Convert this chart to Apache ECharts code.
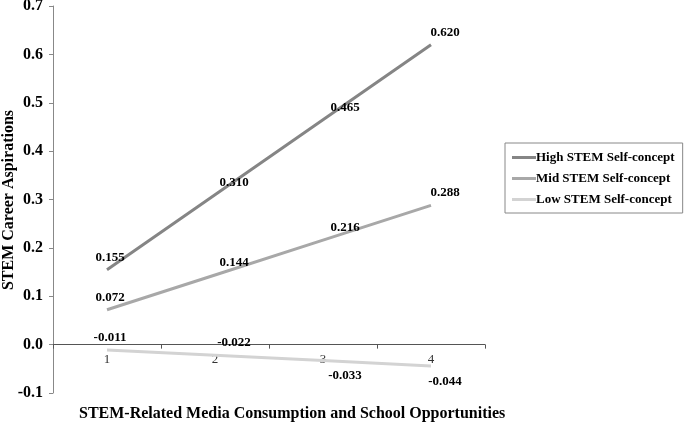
<!DOCTYPE html>
<html><head><meta charset="utf-8">
<script src="https://cdn.jsdelivr.net/npm/echarts@6/dist/echarts.min.js"></script>
<style>html,body{margin:0;padding:0;background:#fff}#c{width:685px;height:422px}</style>
</head><body><div id="c"></div>
<script>
const categories = ['1', '2', '3', '4'];
const seriesNames = ['High STEM Self-concept', 'Mid STEM Self-concept', 'Low STEM Self-concept'];
const highValues = [0.155, 0.310, 0.465, 0.620];
const midValues = [0.072, 0.144, 0.216, 0.288];
const lowValues = [-0.011, -0.022, -0.033, -0.044];
const yTicks = [-0.1, 0, 0.1, 0.2, 0.3, 0.4, 0.5, 0.6, 0.7];
const yTitle = 'STEM Career Aspirations';
const xTitle = 'STEM-Related Media Consumption and School Opportunities';

const F = '"Liberation Serif","Times New Roman",serif';
const colors = ['#858585', '#a8a8a8', '#d3d3d3'];
// label placement (styling only)
const offsetsX = [3, 19, 22, 14];
function mkData(vals, below) {
  return vals.map((v, i) => ({
    value: v,
    label: {
      position: below && below[i] ? 'bottom' : 'top',
      offset: [offsetsX[i], below && below[i] ? 4 : -1]
    }
  }));
}
const chart = echarts.init(document.getElementById('c'));
const lbl = {show: true, fontFamily: F, fontWeight: 'bold', fontSize: 13, color: '#000',
  formatter: p => p.value.toFixed(3)};
const common = {type: 'line', symbol: 'circle', symbolSize: 0, showSymbol: true};
chart.setOption({
  animation: false,
  grid: {left: 53, right: 200, top: 6, bottom: 29, containLabel: false, outerBoundsMode: 'none'},
  title: {text: xTitle, left: 74, top: 401,
    textStyle: {fontFamily: F, fontWeight: 'bold', fontSize: 16, color: '#000'}},
  graphic: [{
    type: 'text', x: 9, y: 200, rotation: Math.PI / 2,
    style: {text: yTitle, fill: '#000', font: 'bold 16px ' + F, align: 'center', verticalAlign: 'middle'}
  }],
  legend: {
    orient: 'vertical', left: 505, top: 143, itemGap: 8,
    data: seriesNames,
    itemWidth: 24, itemHeight: 3,
    padding: [8, 8, 7, 7],
    borderColor: '#888', borderWidth: 1,
    icon: 'rect',
    textStyle: {fontFamily: F, fontWeight: 'bold', fontSize: 13, color: '#000', padding: [0, 0, 0, -5]}
  },
  xAxis: {
    type: 'category', data: categories, boundaryGap: true,
    axisLine: {onZero: true, lineStyle: {color: '#555', width: 1}},
    axisTick: {show: true, length: 4, inside: false, lineStyle: {color: '#555'}},
    axisLabel: {fontFamily: F, fontSize: 13, color: '#333', margin: -40}
  },
  yAxis: {
    type: 'value', min: -0.1, max: 0.7, interval: 0.1,
    splitLine: {show: false},
    axisLine: {show: true, lineStyle: {color: '#888'}},
    axisTick: {show: true, length: 4, lineStyle: {color: '#888'}},
    axisLabel: {fontFamily: F, fontWeight: 'bold', fontSize: 16, color: '#000', margin: 10,
      formatter: v => yTicks.includes(Math.round(v * 10) / 10) ? v.toFixed(1) : ''}
  },
  series: [
    Object.assign({name: seriesNames[0], data: mkData(highValues),
      lineStyle: {color: colors[0], width: 3}, itemStyle: {color: colors[0]}, label: lbl}, common),
    Object.assign({name: seriesNames[1], data: mkData(midValues),
      lineStyle: {color: colors[1], width: 3}, itemStyle: {color: colors[1]}, label: lbl}, common),
    Object.assign({name: seriesNames[2], data: mkData(lowValues, [false, false, true, true]),
      lineStyle: {color: colors[2], width: 3}, itemStyle: {color: colors[2]}, label: lbl}, common)
  ]
});
</script></body></html>
